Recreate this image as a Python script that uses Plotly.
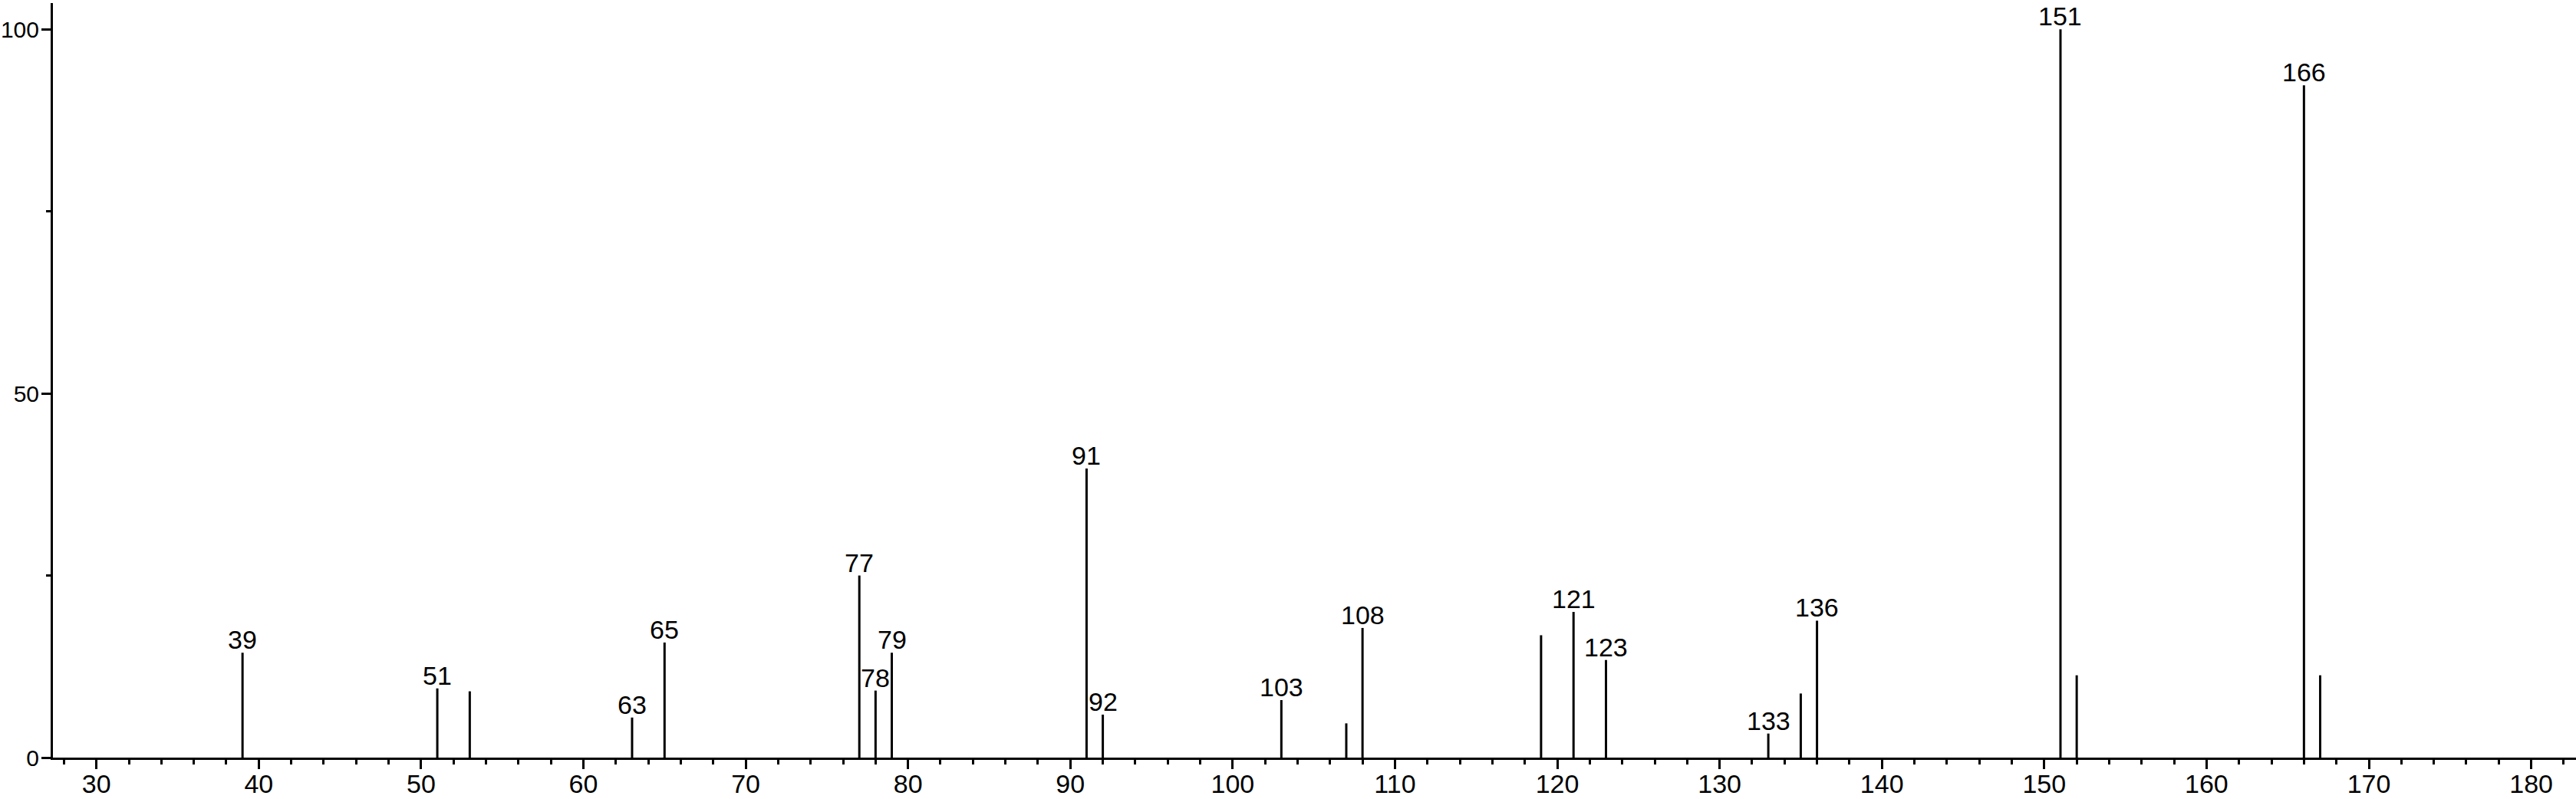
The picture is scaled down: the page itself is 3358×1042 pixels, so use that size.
import plotly.graph_objects as go

# m/z values of the peaks
mz = [39, 51, 53, 63, 65, 77, 78, 79, 91, 92, 103, 107, 108, 119, 121, 123,
      133, 135, 136, 151, 152, 166, 167]
# relative intensities (%)
intensity = [14.4, 9.5, 9.1, 5.5, 15.8, 25.0, 9.2, 14.4, 39.7, 5.9, 7.9, 4.7,
             17.8, 16.8, 20.0, 13.4, 3.3, 8.8, 18.8, 100.0, 11.3, 92.3, 11.3]
# peaks that carry a label
labeled = [39, 51, 63, 65, 77, 78, 79, 91, 92, 103, 108, 121, 123, 133, 136,
           151, 166]

FONT = "Liberation Sans, Arial, sans-serif"

xs, ys = [], []
for m, v in zip(mz, intensity):
    xs += [m, m, None]
    ys += [0, v, None]

fig = go.Figure()
fig.add_trace(go.Scatter(x=xs, y=ys, mode="lines",
                         line=dict(color="black", width=3),
                         hoverinfo="skip", showlegend=False))

for m, v in zip(mz, intensity):
    if m in labeled:
        fig.add_annotation(x=m, y=v, text=str(m), showarrow=False,
                           yanchor="bottom", xanchor="center", yshift=-4,
                           font=dict(family=FONT, size=34, color="black"))

fig.update_layout(
    width=3358, height=1042,
    margin=dict(l=69, r=0, t=4, b=54, pad=0, autoexpand=False),
    paper_bgcolor="white", plot_bgcolor="white",
    font=dict(family=FONT, size=34, color="black"),
    showlegend=False,
)
fig.update_xaxes(range=[27.32, 182.76], tickmode="linear", tick0=0, dtick=10,
                 automargin=False,
                 ticks="outside", ticklen=12, tickwidth=3, tickcolor="black",
                 showline=True, linewidth=3, linecolor="black",
                 showgrid=False, zeroline=False, ticklabelstandoff=-10,
                 minor=dict(dtick=2, tick0=0, ticks="outside", ticklen=6,
                            tickwidth=3, tickcolor="black", showgrid=False),
                 tickfont=dict(family=FONT, size=34, color="black"))
fig.update_yaxes(range=[0, 103.6], tickmode="linear", tick0=0, dtick=50,
                 automargin=False,
                 ticks="outside", ticklen=12, tickwidth=3, tickcolor="black",
                 showline=True, linewidth=3, linecolor="black",
                 showgrid=False, zeroline=False, ticklabelstandoff=-3,
                 minor=dict(dtick=25, tick0=0, ticks="outside", ticklen=6,
                            tickwidth=3, tickcolor="black", showgrid=False),
                 tickfont=dict(family=FONT, size=30, color="black"))

fig.write_html(
    "out.html",
    config={"displayModeBar": False},
    post_script="document.body.style.margin='0';document.body.style.overflow='hidden';",
)
